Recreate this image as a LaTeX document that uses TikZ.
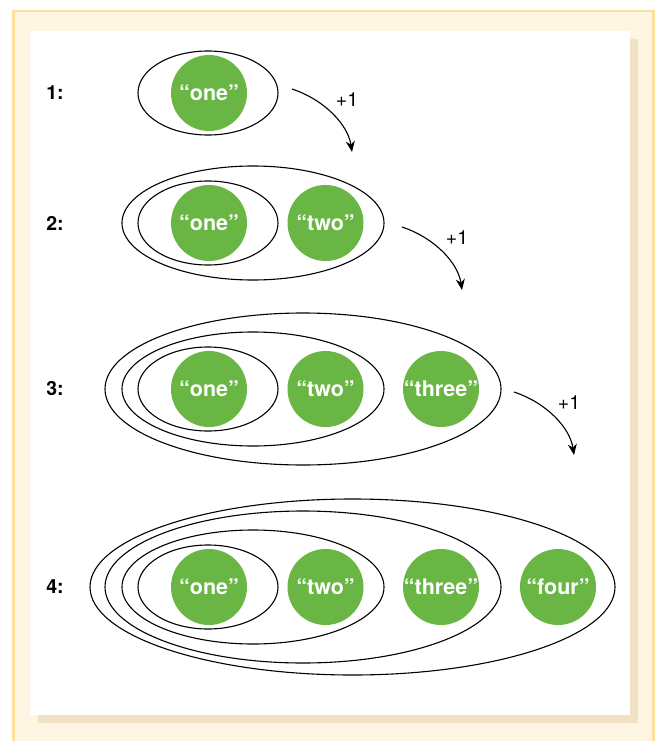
\documentclass[tikz,border=0pt]{standalone}
\usepackage{fontspec}
\setmainfont{TeX Gyre Heros}
\usetikzlibrary{shapes.geometric,arrows.meta,calc}
\definecolor{cream}{HTML}{FEF5E3}
\definecolor{frameline}{HTML}{FDDF9E}
\definecolor{shadowc}{HTML}{F1E2C4}
\definecolor{leaf}{HTML}{6AB645}
\begin{document}
\begin{tikzpicture}[x=1pt,y=-1pt,
  item/.style={circle, fill=leaf, minimum size=76pt, inner sep=0pt, text=white,
    font=\fontsize{21.5}{21.5}\selectfont\bfseries},
  ring/.style={ellipse, draw, line width=1.1pt, inner sep=0pt, outer sep=0pt},
  ringA/.style={ring, minimum width=140pt, minimum height=84pt},
  ringB/.style={ring, minimum width=262pt, minimum height=114pt},
  ringC/.style={ring, minimum width=396pt, minimum height=152pt},
  ringD/.style={ring, minimum width=525pt, minimum height=176pt},
  rowlabel/.style={font=\fontsize{19.5}{19.5}\selectfont\bfseries},
  inc/.style={font=\fontsize{19.5}{19.5}\selectfont},
  arr/.style={line width=1.1pt, -{Stealth[length=11pt,width=9pt]}}]
\useasboundingbox (0,0) rectangle (658,741);
\clip (0,0) rectangle (658,741);
\fill[white] (0,0) rectangle (658,741);
\draw[frameline, fill=cream, line width=2.6pt] (13.5,11.2) rectangle (653.5,760);
\fill[shadowc] (38,39) rectangle (638,723);
\fill[white] (30,31) rectangle (630,715);

% row labels
\node[rowlabel] (l1) at (55,93) {1:};
\node[rowlabel] (l2) at (55,223) {2:};
\node[rowlabel] (l3) at (55,389) {3:};
\node[rowlabel] (l4) at (55,587) {4:};

% row 1
\node[ringA] (r1a) at (208,93) {};
\node[item] (r1one) at (209,93) {“one”};

% row 2
\node[ringA] (r2a) at (208,223) {};
\node[ringB] (r2b) at (253,223) {};
\node[item] (r2one) at (209,223) {“one”};
\node[item] (r2two) at (325.5,223) {“two”};

% row 3
\node[ringA] (r3a) at (208,389) {};
\node[ringB] (r3b) at (253,389) {};
\node[ringC] (r3c) at (303,389) {};
\node[item] (r3one) at (209,389) {“one”};
\node[item] (r3two) at (325.5,389) {“two”};
\node[item] (r3three) at (441,389) {“three”};

% row 4
\node[ringA] (r4a) at (208,587) {};
\node[ringB] (r4b) at (253,587) {};
\node[ringC] (r4c) at (303,587) {};
\node[ringD] (r4d) at (352.5,587) {};
\node[item] (r4one) at (209,587) {“one”};
\node[item] (r4two) at (325.5,587) {“two”};
\node[item] (r4three) at (441,587) {“three”};
\node[item] (r4four) at (558,587) {“four”};

% increments
\coordinate (s1) at (292,89);  \coordinate (t1) at (352,152);
\coordinate (s2) at (402,227); \coordinate (t2) at (462,290);
\coordinate (s3) at (514,392); \coordinate (t3) at (574,455);
\foreach \i in {1,2,3}{
  \draw[arr] (s\i) .. controls ($(s\i)+(33,11)$) and ($(s\i)+(56,36)$) .. (t\i);
  \node[inc] (p\i) at ($(s\i)+(55,11)$) {+1};
}
\end{tikzpicture}
\end{document}
